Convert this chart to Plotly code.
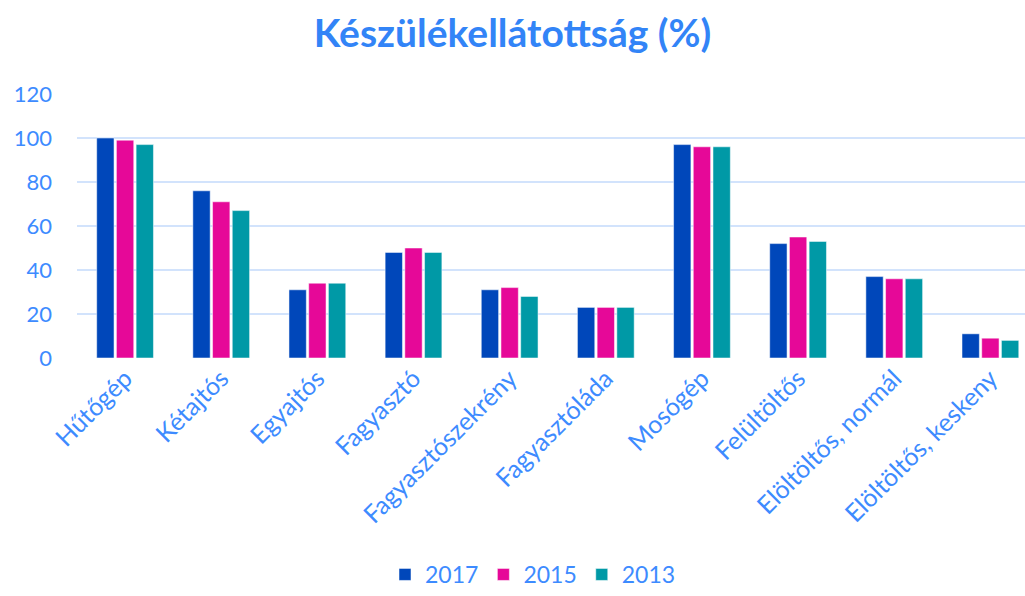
import plotly.graph_objects as go

categories = ["Hűtőgép", "Kétajtós", "Egyajtós", "Fagyasztó", "Fagyasztószekrény",
              "Fagyasztóláda", "Mosógép", "Felültöltős", "Elöltöltős, normál",
              "Elöltöltős, keskeny"]
v2017 = [100, 76, 31, 48, 31, 23, 97, 52, 37, 11]
v2015 = [99, 71, 34, 50, 32, 23, 96, 55, 36, 9]
v2013 = [97, 67, 34, 48, 28, 23, 96, 53, 36, 8]
series = [("2017", v2017, "#0047BA"), ("2015", v2015, "#E60898"), ("2013", v2013, "#0099A6")]
yticks = [0, 20, 40, 60, 80, 100, 120]

TXT = "#3D8BFF"
fig = go.Figure()
for name, vals, col in series:
    fig.add_trace(go.Bar(x=categories, y=vals, name=name,
                         marker=dict(color=col, line=dict(color="rgba(255,255,255,0.5)", width=1))))

W, H = 1025, 596
fig.update_layout(
    width=W, height=H,
    margin=dict(l=77, r=0, t=94, b=238),
    paper_bgcolor="white", plot_bgcolor="white",
    barmode="group", bargap=0.385, bargroupgap=0.12,
    font=dict(family="Lato, Open Sans, sans-serif", color=TXT, size=19),
    title=dict(text="<b>Készülékellátottság (%)</b>", x=0.5, xanchor="center",
               y=1 - 33 / H, yanchor="middle", yref="container",
               font=dict(size=39, color="#3284F7", family="Lato, Open Sans, sans-serif")),
    showlegend=True,
    legend=dict(orientation="h", x=0.52, xanchor="center", xref="container",
                y=0, yanchor="bottom", yref="container",
                font=dict(size=23, color=TXT), itemwidth=30, traceorder="normal"),
    xaxis=dict(range=[-0.5, 9.36], tickangle=-45, showgrid=False, showline=False,
               ticks="", tickfont=dict(size=25, color=TXT), automargin=False),
    yaxis=dict(range=[0, 120], tickvals=yticks, showgrid=True, gridcolor="#D2E3FC",
               gridwidth=2, zeroline=False, showline=False, ticks="",
               ticklabelstandoff=24, tickfont=dict(size=22, color=TXT), automargin=False),
)
fig.write_html("out.html")
